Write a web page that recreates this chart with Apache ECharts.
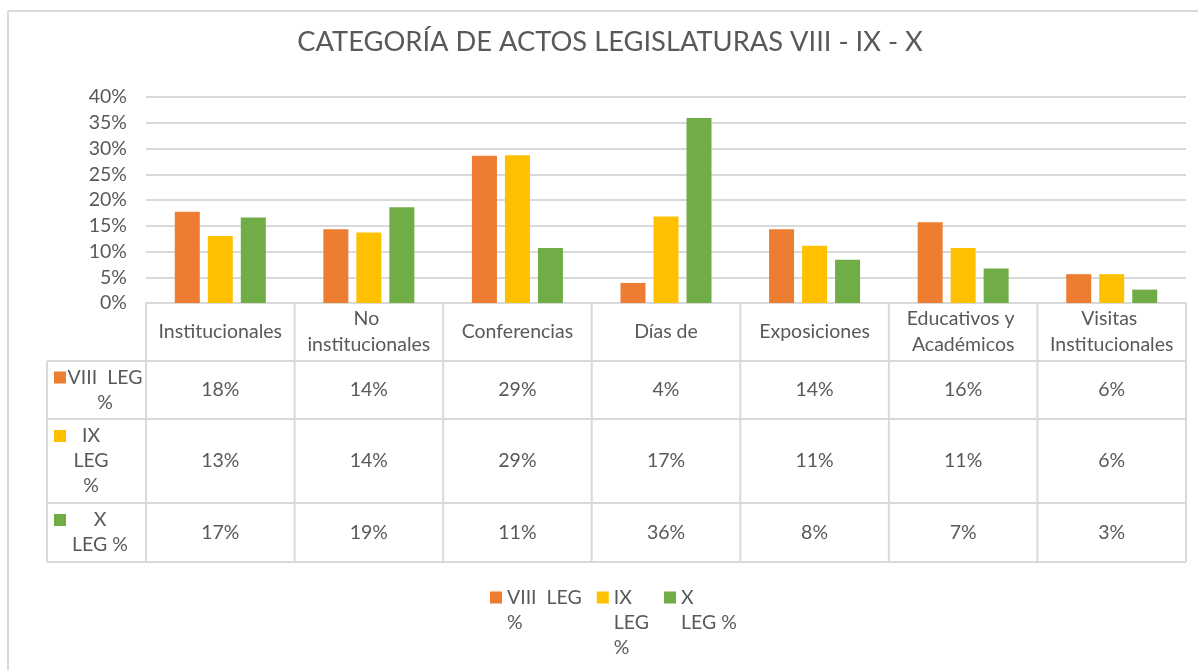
<!DOCTYPE html>
<html>
<head>
<meta charset="utf-8">
<script src="https://cdn.jsdelivr.net/npm/echarts@6/dist/echarts.min.js"></script>
<style>
html, body { margin: 0; padding: 0; background: #fff; }
#chart { width: 1198px; height: 670px; }
</style>
</head>
<body>
<div id="chart"></div>
<script>
// datos (porcentaje de actos por categoria)
var categories = ['Institucionales', 'No institucionales', 'Conferencias', 'Días de', 'Exposiciones', 'Educativos y Académicos', 'Visitas Institucionales'];
var seriesNames = ['VIII  LEG %', 'IX LEG %', 'X LEG %'];
var seriesLabels = ['VIII  LEG\n%', 'IX\nLEG\n%', 'X\nLEG %']; // como aparece partido en excel
var leg8 = [17.7, 14.3, 28.6, 3.9, 14.3, 15.7, 5.6];
var leg9 = [13.0, 13.7, 28.7, 16.8, 11.1, 10.7, 5.6];
var leg10 = [16.6, 18.6, 10.7, 35.9, 8.4, 6.7, 2.6];
var yMin = 0, yMax = 40, yStep = 5;

var colors = ['#ED7D31', '#FFC000', '#70AD47'];
var textColor = '#595959';
var lineColor = '#D9D9D9';
var font = 'Lato, "Open Sans", sans-serif';
var fontSize = 19.5;

var chart = echarts.init(document.getElementById('chart'));

var allData = [leg8, leg9, leg10];

var option = {
  animation: false,
  color: colors,
  textStyle: { fontFamily: font },
  title: {
    text: 'CATEGORÍA DE ACTOS LEGISLATURAS VIII - IX - X',
    left: 605,
    top: 24,
    textAlign: 'center',
    textStyle: { fontFamily: font, fontSize: 27.3, fontWeight: 'normal', color: textColor }
  },
  grid: { left: 146, right: 12, top: 97, bottom: 367, outerBoundsMode: 'none' },
  legend: {
    left: 485,
    top: 530,
    icon: 'rect',
    itemWidth: 12,
    itemHeight: 12,
    itemGap: 15,
    // lineas vacias delante para que la primera linea quede junto al cuadrado
    formatter: function (name) {
      var txt = seriesLabels[seriesNames.indexOf(name)];
      var n = txt.split('\n').length;
      return new Array(n).join('\n') + txt;
    },
    textStyle: { fontFamily: font, fontSize: fontSize, color: textColor, lineHeight: 25 }
  },
  xAxis: {
    type: 'category',
    data: categories,
    axisLine: { lineStyle: { color: lineColor, width: 2 } },
    axisTick: { show: false },
    axisLabel: {
      interval: 0,
      margin: 29,
      verticalAlign: 'middle',
      width: 140,
      overflow: 'break',
      lineHeight: 26,
      fontFamily: font,
      fontSize: fontSize,
      color: textColor
    }
  },
  yAxis: {
    type: 'value',
    min: yMin,
    max: yMax,
    interval: yStep,
    axisLine: { show: false },
    axisTick: { show: false },
    axisLabel: { formatter: '{value}%', margin: 19, fontFamily: font, fontSize: fontSize, color: textColor },
    splitLine: { lineStyle: { color: lineColor, width: 2 } }
  },
  series: seriesNames.map(function (n, i) {
    return { name: n, type: 'bar', data: allData[i], barWidth: 25, barGap: '32%' };
  })
};

chart.setOption(option);

// tabla de datos debajo del eje, como en excel
function drawTable() {
  var cx = categories.map(function (c) {
    return chart.convertToPixel({ xAxisIndex: 0 }, c);
  });
  var band = cx[1] - cx[0];
  var axisY = chart.convertToPixel({ yAxisIndex: 0 }, 0);
  var headerH = 58;
  var rowH = [58, 84, 59];
  var tableLeft = 47;
  var rowLabelX = [105, 91, 100];
  var colLeft = cx[0] - band / 2;
  var colRight = cx[cx.length - 1] + band / 2;

  var rowTops = [];
  var y = axisY + headerH;
  for (var r = 0; r < rowH.length; r++) {
    rowTops.push(y);
    y += rowH[r];
  }
  var tableBottom = y;

  var els = [];
  var lineStyle = { stroke: lineColor, lineWidth: 2 };

  // marco del area del grafico
  els.push({ type: 'line', shape: { x1: 8, y1: 11, x2: 1198, y2: 11 }, style: lineStyle });
  els.push({ type: 'line', shape: { x1: 8, y1: 11, x2: 8, y2: 670 }, style: lineStyle });

  // lineas horizontales
  rowTops.concat([tableBottom]).forEach(function (ty) {
    els.push({ type: 'line', shape: { x1: tableLeft, y1: ty, x2: colRight, y2: ty }, style: lineStyle });
  });
  // lineas verticales
  els.push({ type: 'line', shape: { x1: tableLeft, y1: rowTops[0], x2: tableLeft, y2: tableBottom }, style: lineStyle });
  for (var k = 0; k <= categories.length; k++) {
    var vx = colLeft + k * band;
    els.push({ type: 'line', shape: { x1: vx, y1: axisY, x2: vx, y2: tableBottom }, style: lineStyle });
  }

  // celdas
  for (var s = 0; s < allData.length; s++) {
    var mid = rowTops[s] + rowH[s] / 2;
    var lines = seriesLabels[s].split('\n').length;
    var firstLine = mid - (lines - 1) * 25 / 2;
    els.push({
      type: 'rect',
      shape: { x: 54, y: firstLine - 6, width: 12, height: 12 },
      style: { fill: colors[s] }
    });
    els.push({
      type: 'text',
      style: {
        text: seriesLabels[s], x: rowLabelX[s], y: mid,
        align: 'center', verticalAlign: 'middle', lineHeight: 25,
        fontFamily: font, fontSize: fontSize, fill: textColor
      }
    });
    for (var c = 0; c < categories.length; c++) {
      els.push({
        type: 'text',
        style: {
          text: Math.round(allData[s][c]) + '%', x: cx[c], y: mid,
          align: 'center', verticalAlign: 'middle',
          fontFamily: font, fontSize: fontSize, fill: textColor
        }
      });
    }
  }

  chart.setOption({ graphic: els });
}

drawTable();
</script>
</body>
</html>
